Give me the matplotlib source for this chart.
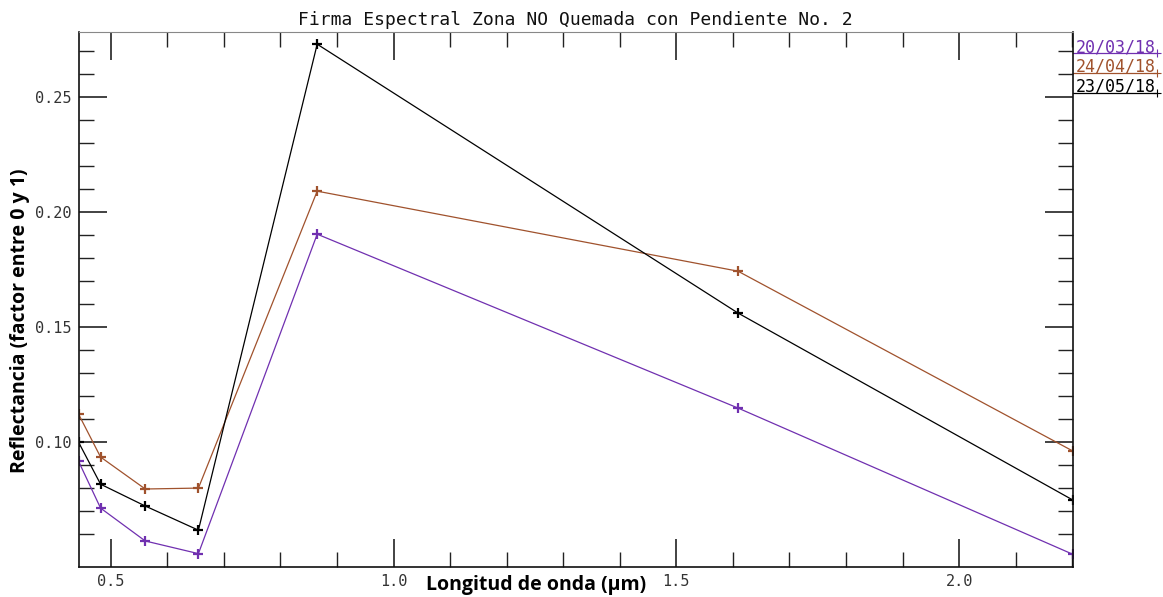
import matplotlib
matplotlib.use("Agg")
import matplotlib.pyplot as plt
from matplotlib.ticker import MultipleLocator, FixedLocator

wavelengths = [0.443, 0.482, 0.561, 0.655, 0.865, 1.609, 2.201]
dates = ["20/03/18", "24/04/18", "23/05/18"]
refl_0320 = [0.0917, 0.0713, 0.0570, 0.0515, 0.1904, 0.1148, 0.0512]
refl_0424 = [0.1122, 0.0935, 0.0796, 0.0800, 0.2091, 0.1743, 0.0961]
refl_0523 = [0.1000, 0.0817, 0.0722, 0.0617, 0.2730, 0.1561, 0.0748]
colors = ["#7030b0", "#a0522d", "#000000"]

# ENVI only ticks from 0.06 upward on this plot
y_major = [0.10, 0.15, 0.20, 0.25]
y_minor = [round(0.06 + 0.01 * i, 2) for i in range(22)]

mono = ["DejaVu Sans Mono"]

fig = plt.figure(figsize=(11.63, 5.97), dpi=100)
ax = fig.add_axes([0.0675, 0.0503, 0.855, 0.8961])

for vals, c in zip([refl_0320, refl_0424, refl_0523], colors):
    ax.plot(wavelengths, vals, color=c, lw=0.9, marker="+", ms=7.5, mew=1.6)

ax.set_xlim(0.443, 2.201)
ax.set_ylim(0.0457, 0.2783)
ax.xaxis.set_major_locator(MultipleLocator(0.5))
ax.xaxis.set_minor_locator(MultipleLocator(0.1))
ax.yaxis.set_major_locator(FixedLocator(y_major))
ax.yaxis.set_minor_locator(FixedLocator(y_minor))
ax.xaxis.set_major_formatter(plt.FormatStrFormatter("%.1f"))
ax.yaxis.set_major_formatter(plt.FormatStrFormatter("%.2f"))
ax.tick_params(which="both", direction="in", top=True, right=True, color="#222222")
ax.tick_params(which="major", length=20, width=1.2, labelsize=11, pad=5)
ax.tick_params(which="minor", length=11, width=1.0)
for lab in ax.get_xticklabels() + ax.get_yticklabels():
    lab.set_family(mono)
    lab.set_color("#333333")
for side in ["left", "right", "bottom"]:
    ax.spines[side].set_color("#111111")
    ax.spines[side].set_linewidth(1.2)
ax.spines["top"].set_color("#888888")

ax.set_title("Firma Espectral Zona NO Quemada con Pendiente No. 2",
             family=mono, fontsize=13, pad=5, color="#111111")
ax.set_xlabel("Longitud de onda (µm)", fontsize=14, fontweight="bold",
              family="Open Sans")
ax.set_ylabel("Reflectancia (factor entre 0 y 1)", fontsize=14, fontweight="bold",
              family="Open Sans")
ax.xaxis.set_label_coords(0.46, -0.034)
ax.yaxis.set_label_coords(-0.0588, 0.46)
ax.xaxis.label.set_va("center")
ax.yaxis.label.set_va("center")

# legend drawn to the right of the plot, label sitting on a short line
for i, (d, c) in enumerate(zip(dates, colors)):
    yl = 1 - (21.3 + i * 19.7) / 535
    ax.plot([1.0, 1.085], [yl, yl], transform=ax.transAxes, color=c, lw=0.9,
            clip_on=False)
    ax.plot([1.085], [yl], transform=ax.transAxes, color=c, marker="+", ms=6,
            mew=0.8, clip_on=False)
    ax.text(1.003, yl + 0.002, d, transform=ax.transAxes, color=c, family=mono,
            fontsize=12, ha="left", va="baseline")

fig.savefig("out.png", dpi=100)
